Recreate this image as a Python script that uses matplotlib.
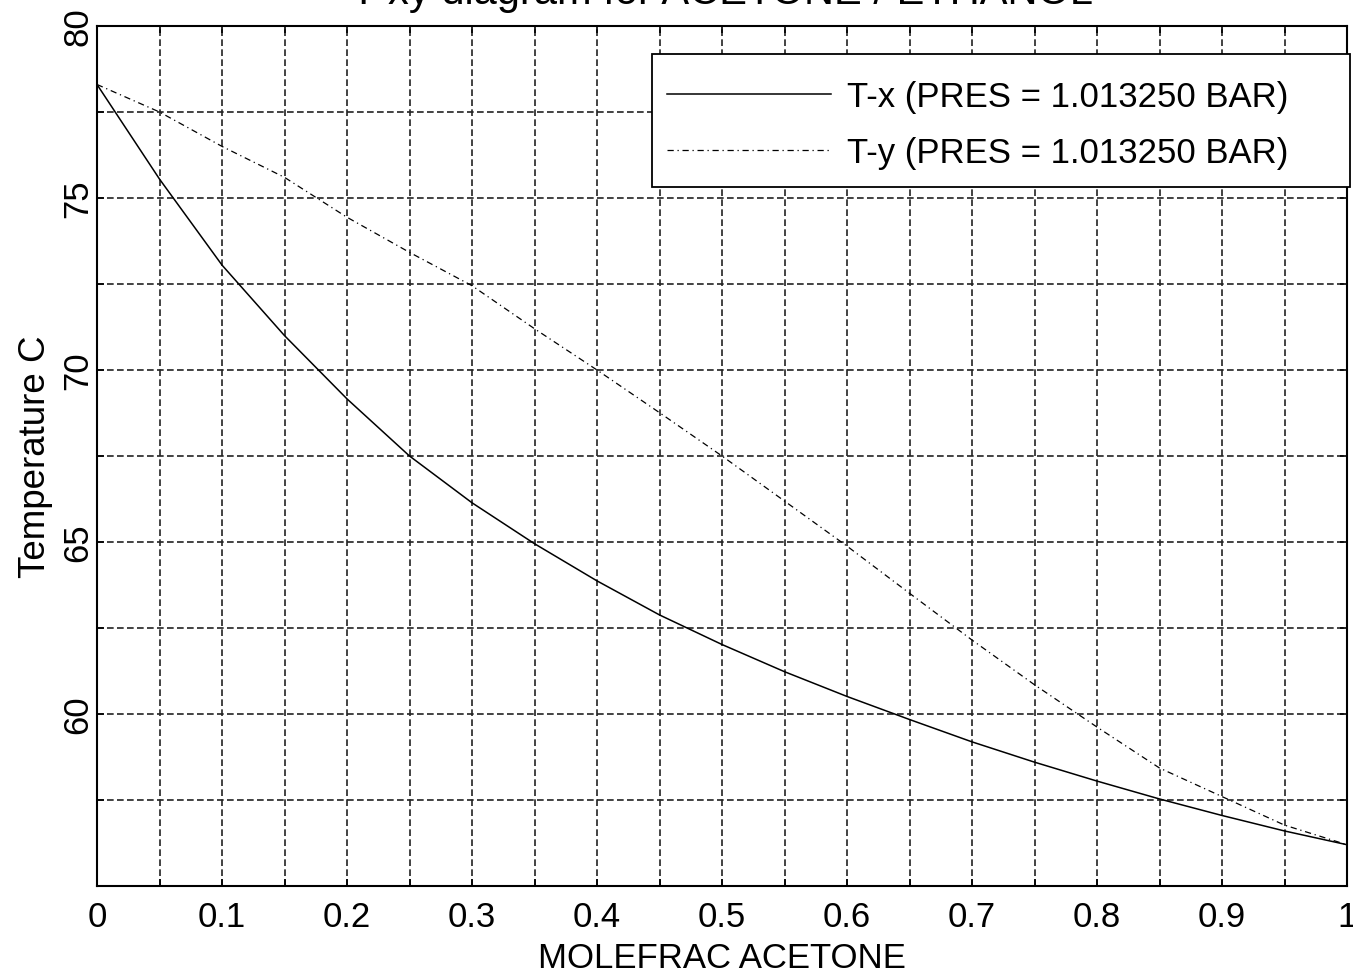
import matplotlib
matplotlib.use('Agg')
import matplotlib.pyplot as plt
from matplotlib.ticker import MultipleLocator
from matplotlib.patches import Rectangle

plt.rcParams['font.family'] = ['Liberation Sans', 'DejaVu Sans']

# mole fraction acetone
x_frac = [0.0, 0.05, 0.1, 0.15, 0.2, 0.25, 0.3, 0.35, 0.4, 0.45, 0.5,
          0.55, 0.6, 0.65, 0.7, 0.75, 0.8, 0.85, 0.9, 0.95, 1.0]
# bubble point curve T-x
t_liq = [78.3, 75.55, 73.05, 71.0, 69.16, 67.5, 66.14, 64.95, 63.87, 62.88, 62.02,
         61.23, 60.51, 59.84, 59.19, 58.6, 58.05, 57.53, 57.05, 56.6, 56.2]
# dew point curve T-y
t_vap = [78.3, 77.5, 76.5, 75.6, 74.44, 73.42, 72.45, 71.2, 70.0, 68.76, 67.5,
         66.19, 64.88, 63.51, 62.15, 60.85, 59.62, 58.43, 57.6, 56.77, 56.2]

labels = ['T-x (PRES = 1.013250 BAR)', 'T-y (PRES = 1.013250 BAR)']
title = 'T-xy diagram for ACETONE / ETHANOL'

fs = 25

fig = plt.figure(figsize=(13.53, 9.78), dpi=100)
ax = fig.add_axes([97/1353, 1 - 887/978, 1250/1353, 860/978])

ax.plot(x_frac, t_liq, color='black', lw=1.1, label=labels[0])
ax.plot(x_frac, t_vap, color='black', lw=0.9, linestyle=(0, (5, 3, 1, 3)), label=labels[1])

ax.set_xlim(0, 1)
ax.set_ylim(55, 80)
ax.xaxis.set_minor_locator(MultipleLocator(0.05))
ax.yaxis.set_minor_locator(MultipleLocator(2.5))
ax.set_xticks([0, 0.1, 0.2, 0.3, 0.4, 0.5, 0.6, 0.7, 0.8, 0.9, 1.0])
ax.set_xticklabels(['0', '0.1', '0.2', '0.3', '0.4', '0.5', '0.6', '0.7', '0.8', '0.9', '1'])
ax.set_yticks([60, 65, 70, 75, 80])
ax.set_yticklabels(['60', '65', '70', '75', '80'], rotation=90, va='center')

ax.grid(True, which='both', color='#222222', lw=1.2, linestyle=(0, (4, 2)))
ax.tick_params(which='both', direction='in', length=5, width=1.2, top=True, right=True,
               labelsize=fs, colors='black')
ax.tick_params(axis='x', pad=10)
ax.tick_params(axis='y', pad=2)
for s in ax.spines.values():
    s.set_linewidth(1.5)

ax.set_xlabel('MOLEFRAC ACETONE', fontsize=fs, labelpad=6)
ax.set_ylabel('Temperature C', fontsize=26.5, labelpad=6)
ax.set_title(title, fontsize=30, pad=16.9)

# legend box
box = Rectangle((0.444, 0.8128), 0.5584, 0.1547, transform=ax.transAxes,
                facecolor='white', edgecolor='black', lw=1.3, clip_on=False, zorder=4)
ax.add_patch(box)
leg = ax.legend(loc='center left', bbox_to_anchor=((667 - 97) / 1250, 1 - (125.5 - 27) / 860),
                borderaxespad=0, borderpad=0, fontsize=fs, handlelength=4.73,
                handletextpad=0.46, labelspacing=0.67, frameon=False)
leg.set_zorder(5)

fig.savefig('out.png', dpi=100)
